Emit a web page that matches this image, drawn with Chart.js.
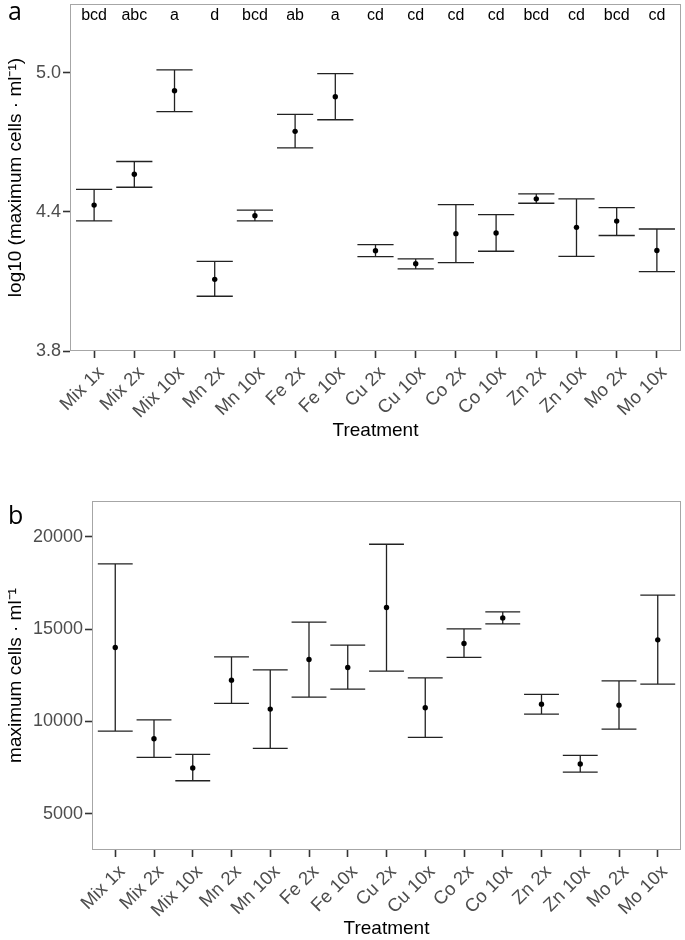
<!DOCTYPE html>
<html>
<head>
<meta charset="utf-8">
<script src="https://cdn.jsdelivr.net/npm/chart.js@4"></script>
<style>
  body { margin: 0; background: #fff; width: 685px; height: 940px; position: relative; overflow: hidden; }
  canvas { position: absolute; left: 0; }
  #chart-a { top: 0; }
  #chart-b { top: 445px; }
  .panel { position: absolute; left: 8px; font-family: "Open Sans", sans-serif; font-size: 25px; line-height: 1; color: #000; }
</style>
</head>
<body>
<canvas id="chart-a" width="685" height="445"></canvas>
<canvas id="chart-b" width="685" height="495"></canvas>
<div class="panel" style="top:-2px">a</div>
<div class="panel" style="top:502px">b</div>
<script>
var categories = ["Mix 1x", "Mix 2x", "Mix 10x", "Mn 2x", "Mn 10x", "Fe 2x", "Fe 10x", "Cu 2x", "Cu 10x", "Co 2x", "Co 10x", "Zn 2x", "Zn 10x", "Mo 2x", "Mo 10x"];
var letters = ["bcd", "abc", "a", "d", "bcd", "ab", "a", "cd", "cd", "cd", "cd", "bcd", "cd", "bcd", "cd"];

// panel a: log10 of maximum cells
var logMean = [4.429, 4.562, 4.922, 4.109, 4.383, 4.747, 4.896, 4.232, 4.176, 4.306, 4.309, 4.456, 4.333, 4.360, 4.233];
var logLow  = [4.361, 4.506, 4.832, 4.036, 4.361, 4.676, 4.797, 4.207, 4.154, 4.181, 4.230, 4.437, 4.208, 4.298, 4.142];
var logHigh = [4.497, 4.617, 5.012, 4.186, 4.407, 4.820, 4.996, 4.259, 4.197, 4.431, 4.388, 4.477, 4.456, 4.418, 4.326];
var logTicks = [3.8, 4.4, 5.0];
var letterY = 5.244;

// panel b: maximum cells per ml
var cellMean = [14011, 9062, 7475, 12240, 10670, 13361, 12928, 16177, 10740, 14227, 15614, 10940, 7692, 10886, 14423];
var cellLow  = [9479, 8055, 6788, 10979, 8542, 11320, 11753, 12727, 9137, 13469, 15289, 10399, 7259, 9587, 12024];
var cellHigh = [18538, 10090, 8217, 13502, 12798, 15381, 14136, 19605, 12365, 15018, 15939, 11466, 8163, 12203, 16843];
var cellTicks = [5000, 10000, 15000, 20000];

var fam = "'Liberation Sans', Arial, sans-serif";
var xTickFont = { family: fam, size: 18.5 };
var yTickFont = { family: fam, size: 18 };
var titleFont = { family: fam, size: 19 };

var errorBars = {
  id: 'errorBars',
  beforeDatasetsDraw: function(chart) {
    var ctx = chart.ctx, a = chart.chartArea;
    var xs = chart.scales.x, ys = chart.scales.y;
    ctx.save();
    ctx.strokeStyle = '#a6a6a6';
    ctx.lineWidth = 1;
    ctx.strokeRect(a.left + 0.5, a.top + 0.5, a.right - a.left - 1, a.bottom - a.top - 1);
    var ds = chart.data.datasets[0];
    ctx.strokeStyle = '#222';
    ctx.lineWidth = 1.3;
    for (var i = 0; i < ds.low.length; i++) {
      var x = xs.getPixelForValue(i);
      var x0 = xs.getPixelForValue(i - 0.45), x1 = xs.getPixelForValue(i + 0.45);
      var yl = ys.getPixelForValue(ds.low[i]), yh = ys.getPixelForValue(ds.high[i]);
      ctx.beginPath();
      ctx.moveTo(x, yl); ctx.lineTo(x, yh);
      ctx.moveTo(x0, yl); ctx.lineTo(x1, yl);
      ctx.moveTo(x0, yh); ctx.lineTo(x1, yh);
      ctx.stroke();
    }
    if (ds.letters) {
      ctx.fillStyle = '#000';
      ctx.font = "16px " + fam;
      ctx.textAlign = 'center';
      ctx.textBaseline = 'middle';
      for (var j = 0; j < ds.letters.length; j++) {
        ctx.fillText(ds.letters[j], xs.getPixelForValue(j), ys.getPixelForValue(ds.lettersAt));
      }
    }
    ctx.restore();
  }
};

function makeChart(id, mean, low, high, opts) {
  var ds = {
    data: mean.map(function(v, i) { return { x: i, y: v }; }),
    low: low,
    high: high,
    pointRadius: 2.7,
    pointBackgroundColor: '#000',
    pointBorderWidth: 0,
    showLine: false
  };
  if (opts.letters) { ds.letters = opts.letters; ds.lettersAt = opts.lettersAt; }
  return new Chart(document.getElementById(id), {
    type: 'scatter',
    data: { datasets: [ds] },
    options: {
      responsive: false,
      animation: false,
      layout: { padding: opts.padding },
      plugins: { legend: { display: false }, tooltip: { enabled: false } },
      scales: {
        x: {
          type: 'linear',
          min: -0.6,
          max: 14.6,
          afterBuildTicks: function(s) { s.ticks = categories.map(function(c, i) { return { value: i }; }); },
          afterFit: function(s) { s.height = opts.xHeight; },
          grid: { drawOnChartArea: false, drawTicks: true, tickLength: 7, tickColor: '#333', tickWidth: 1.6 },
          border: { display: false },
          ticks: {
            autoSkip: false, minRotation: 45, maxRotation: 45, padding: 4, labelOffset: 7,
            color: '#4d4d4d', font: xTickFont,
            callback: function(v) { return categories[v]; }
          },
          title: { display: true, text: 'Treatment', color: '#000', font: titleFont, padding: { top: 0, bottom: opts.titlePad } }
        },
        y: {
          min: opts.yMin,
          max: opts.yMax,
          afterBuildTicks: function(s) { s.ticks = opts.yTicks.map(function(v) { return { value: v }; }); },
          afterFit: function(s) { s.width = opts.yWidth; s.paddingTop = 0; s.paddingBottom = 0; },
          grid: { drawOnChartArea: false, drawTicks: true, tickLength: 7, tickColor: '#333', tickWidth: 1.6 },
          border: { display: false },
          ticks: { padding: 2, color: '#4d4d4d', font: yTickFont, callback: opts.yFormat },
          title: { display: true, text: opts.yTitle, color: '#000', font: titleFont, padding: { top: 4, bottom: 0 } }
        }
      }
    },
    plugins: [errorBars]
  });
}

makeChart('chart-a', logMean, logLow, logHigh, {
  padding: { top: 2, right: 2, left: 0, bottom: 0 },
  xHeight: 94, yWidth: 70, titlePad: 3,
  yMin: 3.8, yMax: 5.296, yTicks: logTicks,
  yFormat: function(v) { return v.toFixed(1); },
  yTitle: 'log10 (maximum cells \u00b7 ml\u207b\u00b9)',
  letters: letters, lettersAt: letterY
});

makeChart('chart-b', cellMean, cellLow, cellHigh, {
  padding: { top: 56, right: 2, left: 0, bottom: 0 },
  xHeight: 90, yWidth: 92, titlePad: 0,
  yMin: 3034, yMax: 21950, yTicks: cellTicks,
  yFormat: function(v) { return String(v); },
  yTitle: 'maximum cells \u00b7 ml\u207b\u00b9'
});
</script>
</body>
</html>
